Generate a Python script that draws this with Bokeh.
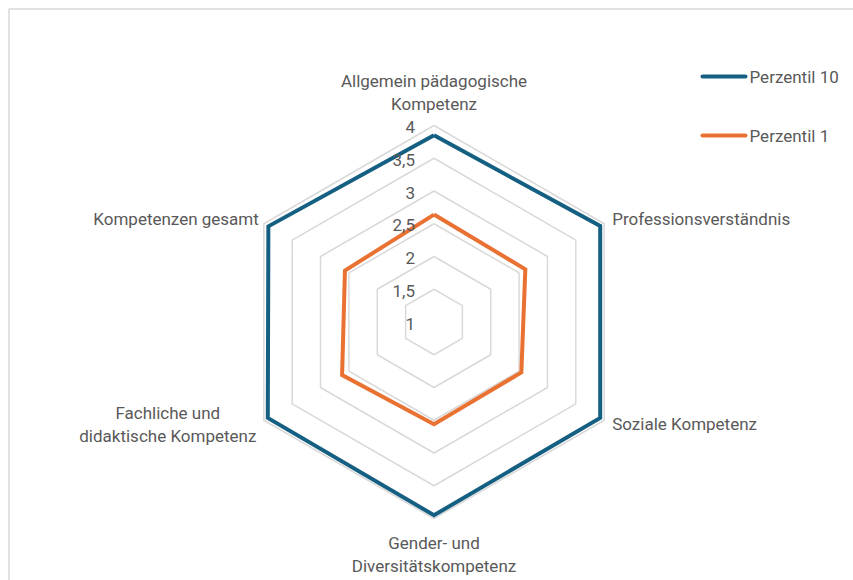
import numpy as np
from bokeh.plotting import figure
from bokeh.models import Range1d
from bokeh.core.properties import value
from bokeh.embed import file_html
from bokeh.resources import INLINE

# ---- data ----
categories = [
    "Allgemein pädagogische\nKompetenz",
    "Professionsverständnis",
    "Soziale Kompetenz",
    "Gender- und\nDiversitätskompetenz",
    "Fachliche und\ndidaktische Kompetenz",
    "Kompetenzen gesamt",
]
series_names = ["Perzentil 10", "Perzentil 1"]
perzentil_10 = [3.85, 3.93, 3.93, 3.95, 3.93, 3.92]
perzentil_1 = [2.64, 2.61, 2.54, 2.56, 2.62, 2.57]
ticks = [1, 1.5, 2, 2.5, 3, 3.5, 4]
tick_labels = ["1", "1,5", "2", "2,5", "3", "3,5", "4"]

# ---- styling / layout ----
W, H = 853, 580
ORG = 0                         # page position of canvas origin
CX, CY = 433.5, 321.5          # page position of the radar centre
PX_PER_UNIT = 65.5
RMIN = 1.0
FONT = "Roboto"
FS = "17px"
TXT = "#595959"
GRID = "#d9d9d9"
colors = ["#156082", "#E97132"]

def px(x, y):
    """page pixel -> data coords"""
    return x - CX, CY - y

p = figure(width=W, height=H, output_backend="svg", toolbar_location=None,
           x_range=Range1d(ORG - CX, ORG + W - CX), y_range=Range1d(CY - (ORG + H), CY - ORG),
           min_border=0, outline_line_color=None)
p.axis.visible = False
p.grid.visible = False
p.background_fill_color = "white"
p.border_fill_color = "white"

n = len(categories)
ang = np.pi / 2 - np.arange(n) * 2 * np.pi / n

def radius(v):
    return (np.asarray(v, dtype=float) - RMIN) * PX_PER_UNIT

# frame (left and top edges)
fx0, fy0 = px(8.5, 8.5)
p.line([fx0, fx0, ORG + W - CX], [CY - (ORG + H), fy0, fy0], line_color=GRID, line_width=1.5)

# grid rings
for t in ticks[1:]:
    r = radius(t)
    xs = list(r * np.cos(ang)) + [r * np.cos(ang[0])]
    ys = list(r * np.sin(ang)) + [r * np.sin(ang[0])]
    p.line(xs, ys, line_color=GRID, line_width=1.5)

# series
for vals, c in zip([perzentil_10, perzentil_1], colors):
    r = radius(vals)
    xs = list(r * np.cos(ang)) + [r[0] * np.cos(ang[0])]
    ys = list(r * np.sin(ang)) + [r[0] * np.sin(ang[0])]
    p.line(xs, ys, line_color=c, line_width=4, line_join="miter")

# tick labels
tx = [-19] * len(ticks)
ty = [radius(t) - 1.5 for t in ticks]
p.text(tx, ty, text=tick_labels, text_align="right", text_baseline="middle",
       text_font=value(FONT), text_font_size=FS, text_color=TXT)

# category labels
R4 = radius(ticks[-1])
vx = R4 * np.cos(ang)
vy = R4 * np.sin(ang)
label_style = [
    (0, 22, "center"),
    (8, 5, "left"),
    (8, -4, "left"),
    (0, -24, "center"),
    (-96, -16, "center"),
    (-5, 5, "right"),
]
LH = 23
for i, (cat, (dx, dy, al)) in enumerate(zip(categories, label_style)):
    lines = cat.split("\n")
    if i == 3:
        ys_ = [vy[i] + dy - LH * k for k in range(len(lines))]
    else:
        ys_ = [vy[i] + dy + LH * (len(lines) - 1 - k) for k in range(len(lines))]
    p.text([vx[i] + dx] * len(lines), ys_, text=lines, text_align=al,
           text_baseline="middle", text_font=value(FONT), text_font_size=FS,
           text_color=TXT)

# legend
leg_y = [76, 135]
for name, c, yy in zip(series_names, colors, leg_y):
    x0, y0 = px(702, yy)
    x1, _ = px(745, yy)
    p.line([x0, x1], [y0, y0], line_color=c, line_width=4, line_cap="round")
    xt, _ = px(749, yy)
    p.text([xt], [y0], text=[name], text_align="left", text_baseline="middle",
           text_font=value(FONT), text_font_size=FS, text_color=TXT)

open("out.html", "w").write(file_html(p, INLINE))
